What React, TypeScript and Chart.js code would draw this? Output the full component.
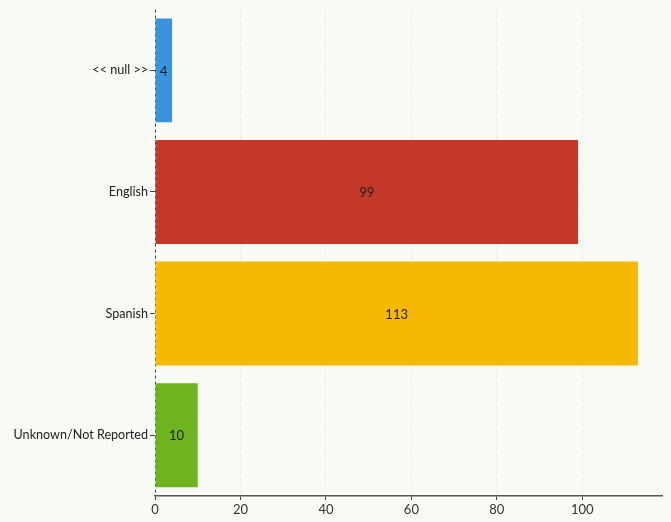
import React, { useEffect, useRef } from "react";
import { Chart, registerables } from "chart.js";

Chart.register(...registerables);

const categories = ["<< null >>", "English", "Spanish", "Unknown/Not Reported"];
const counts = [4, 99, 113, 10];
const barColors = ["#3a93dd", "#c4382a", "#f6b800", "#6db420"];
const xTickStep = 20;
const xMax = 118.65;

const valueLabels = {
  id: "valueLabels",
  afterDatasetsDraw(chart: any) {
    const ctx = chart.ctx;
    const meta = chart.getDatasetMeta(0);
    ctx.save();
    ctx.font = "13px Lato";
    ctx.fillStyle = "#222";
    ctx.textAlign = "center";
    ctx.textBaseline = "middle";
    meta.data.forEach((bar: any, i: number) => {
      const cx = (bar.x + bar.base) / 2;
      ctx.fillText(String(counts[i]), cx, bar.y + 1);
    });
    ctx.restore();
  },
};

export default function App() {
  const ref = useRef<HTMLCanvasElement>(null);
  useEffect(() => {
    document.body.style.margin = "0";
    document.body.style.background = "#f9fbf6";
    const chart = new Chart(ref.current!, {
      type: "bar",
      data: {
        labels: categories,
        datasets: [
          {
            data: counts,
            backgroundColor: barColors,
            borderWidth: 0,
            categoryPercentage: 0.9,
            barPercentage: 0.95,
          },
        ],
      },
      options: {
        indexAxis: "y",
        animation: false,
        responsive: false,
        devicePixelRatio: 1,
        layout: { padding: { top: 5, right: 9, left: 0, bottom: 0 } },
        plugins: { legend: { display: false }, tooltip: { enabled: false } },
        scales: {
          x: {
            min: 0,
            max: xMax,
            afterBuildTicks: (axis: any) => {
              axis.ticks = axis.ticks.filter((t: any) => t.value % xTickStep === 0);
            },
            afterFit: (axis: any) => {
              axis.height = 26;
            },
            ticks: {
              stepSize: xTickStep,
              color: "#333",
              font: { family: "Lato", size: 13 },
              padding: 2,
            },
            grid: {
              color: (c: any) => (c.tick && c.tick.value === 0 ? "#444" : "#e6e8e3"),
              lineWidth: 1,
              tickColor: "#444",
              tickLength: 4,
            },
            border: { display: true, color: "#555", width: 1.5, dash: [3, 3] },
          },
          y: {
            afterFit: (axis: any) => {
              axis.width = 155;
            },
            ticks: {
              color: "#222",
              font: { family: "Lato", size: 12.6 },
              padding: 2,
            },
            grid: {
              offset: false,
              drawOnChartArea: false,
              drawTicks: true,
              tickLength: 5,
              tickColor: "#444",
            },
            border: { display: false },
          },
        },
      },
      plugins: [valueLabels],
    });
    return () => chart.destroy();
  }, []);
  return (
    <div style={{ position: "fixed", left: 0, top: 0, width: 671, height: 522 }}>
      <canvas ref={ref} width={671} height={522} style={{ width: 671, height: 522 }} />
    </div>
  );
}
